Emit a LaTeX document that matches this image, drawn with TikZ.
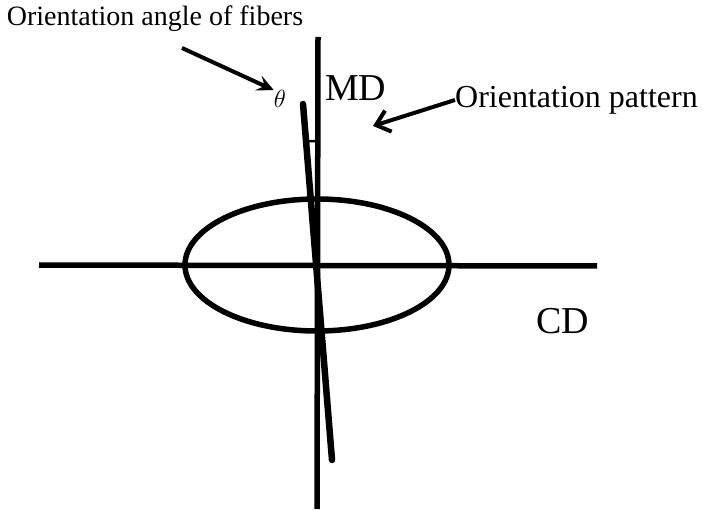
\documentclass[tikz,border=0pt]{standalone}
\usepackage{fontspec}
\setmainfont{Liberation Serif}
\usepackage{tikz}
\usetikzlibrary{arrows.meta,positioning,calc}
\tikzset{
  axisline/.style={draw=black, line width=5.5pt},
  fiberline/.style={draw=black, line width=6.5pt, line cap=round},
  patternoval/.style={draw=black, line width=5.5pt},
  anglearc/.style={draw=black, line width=2.5pt},
  axislabel/.style={font=\fontsize{38}{40}\selectfont, inner sep=0pt},
  notelabel/.style={font=\fontsize{28}{30}\selectfont, inner sep=0pt},
  notearrow/.style={-{Stealth[length=17pt, width=16pt, inset=7pt]}, line width=4pt},
  barbarrow/.style={-{Straight Barb[length=13pt, width=22pt]}, line width=4pt}
}
\begin{document}
\begin{tikzpicture}[x=1pt, y=-1pt]
  \useasboundingbox (0,0) rectangle (703,510);
  % axes
  \coordinate (center) at (317,265);
  \coordinate (mdtop) at (318,37);
  \coordinate (mdbot) at (317,509);
  \coordinate (cdleft) at (39,265);
  \coordinate (cdright) at (597,266);
  \draw[axisline] (mdtop) -- (mdbot);
  \draw[axisline] (cdleft) -- (cdright);
  \draw[patternoval] (center) ellipse [x radius=132, y radius=66];
  % fiber direction
  \coordinate (fibtop) at (303,104);
  \coordinate (fibbot) at (332,460);
  \draw[fiberline] (fibtop) -- (fibbot);
  \draw[anglearc] (center) ++(270:124) arc[start angle=270, end angle=265.5, radius=124];
  % labels
  \node[axislabel, anchor=west] (md) at (325,88) {MD};
  \node[axislabel] (cd) at (563,321) {CD};
  \node[font=\fontsize{24}{26}\selectfont, inner sep=0pt] (theta) at (280,99) {$\theta$};
  \node[notelabel] (anglenote) at (155,19) {Orientation angle of fibers};
  \node[notelabel, font=\fontsize{32}{34}\selectfont, anchor=west] (patternnote) at (455,100) {Orientation pattern};
  \coordinate (anglefrom) at (182,48);
  \coordinate (patternto) at (373,126);
  \draw[notearrow] (anglefrom) -- (theta.north west);
  \draw[barbarrow] (patternnote.west) -- (patternto);
\end{tikzpicture}
\end{document}
